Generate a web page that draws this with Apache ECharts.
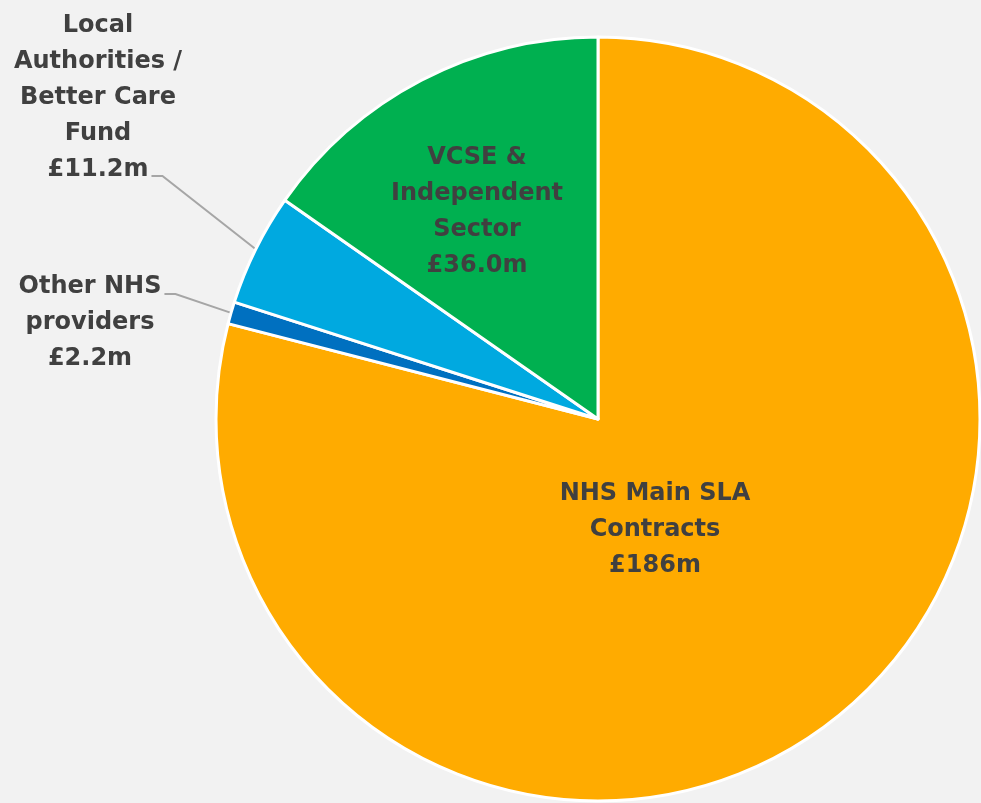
<!DOCTYPE html>
<html>
<head>
<meta charset="utf-8">
<script src="https://cdn.jsdelivr.net/npm/echarts@6/dist/echarts.min.js"></script>
<style>
html,body{margin:0;padding:0;background:#f2f2f2;}
#chart{width:981px;height:803px;}
</style>
</head>
<body>
<div id="chart"></div>
<script>
// Data (clockwise from 12 o'clock)
const categories = ['NHS Main SLA\nContracts', 'Other NHS\nproviders', 'Local\nAuthorities /\nBetter Care\nFund', 'VCSE &\nIndependent\nSector'];
const values = [186, 2.2, 11.2, 36.0];
const valueLabels = ['£186m', '£2.2m', '£11.2m', '£36.0m'];
const colors = ['#FFAB00', '#0070C0', '#00A9E0', '#00B050'];

// label anchor (text centre) positions, px
const labelCentres = [[655, 530], [90, 323], [98, 98], [477, 212]];
const outside = [false, true, true, false];
const lineY = [null, 294, 176, null];
const lineFromRow = [null, 'Other NHS', '£11.2m', null];

const FONT_SIZE = 24;
const FONT = 'bold ' + FONT_SIZE + 'px "DejaVu Sans"';
const ctx = document.createElement('canvas').getContext('2d');
ctx.font = FONT;

const chart = echarts.init(document.getElementById('chart'), null, {renderer: 'canvas'});
const data = categories.map((c, i) => ({
  name: c,
  value: values[i],
  itemStyle: {color: colors[i]},
  label: {position: outside[i] ? 'outside' : 'inside'},
  labelLine: {show: outside[i]}
}));

chart.setOption({
  backgroundColor: '#f2f2f2',
  animation: false,
  series: [{
    type: 'pie',
    center: [598, 419],
    radius: 382,
    startAngle: 90,
    clockwise: true,
    avoidLabelOverlap: false,
    itemStyle: {borderColor: '#ffffff', borderWidth: 3},
    label: {
      show: true,
      color: '#404040',
      fontFamily: 'DejaVu Sans',
      fontWeight: 'bold',
      fontSize: FONT_SIZE,
      lineHeight: 36,
      align: 'center',
      formatter: p => p.name + '\n' + valueLabels[p.dataIndex]
    },
    labelLine: {
      show: true,
      length: 10,
      length2: 10,
      lineStyle: {color: '#a6a6a6', width: 2}
    },
    labelLayout: function (params) {
      const i = params.dataIndex;
      const c = labelCentres[i];
      const res = {x: c[0], y: c[1], align: 'center', verticalAlign: 'middle'};
      if (outside[i] && params.labelLinePoints) {
        const pts = params.labelLinePoints;
        const right = c[0] + ctx.measureText(lineFromRow[i]).width / 2;
        res.labelLinePoints = [pts[0], [right + 14, lineY[i]], [right + 3, lineY[i]]];
      }
      return res;
    },
    data: data
  }]
});
</script>
</body>
</html>
